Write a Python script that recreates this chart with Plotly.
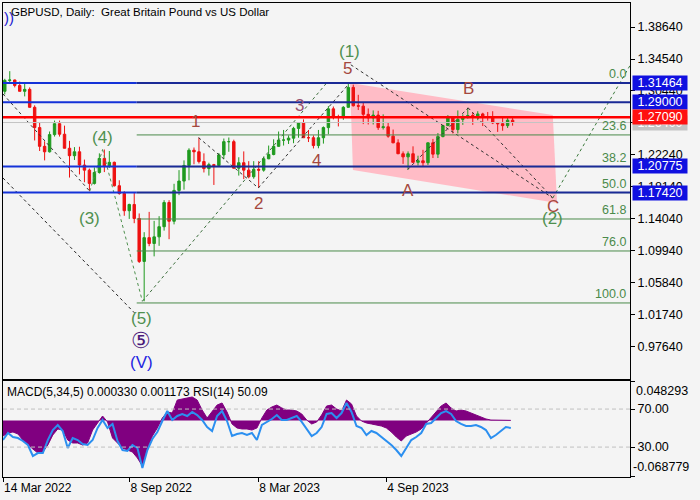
import pandas as pd
import plotly.graph_objects as go

# ---------------- data (weekly) ----------------
first_week = "2022-03-14"
opens = [1.3040, 1.3180, 1.3185, 1.3115, 1.3040, 1.3065, 1.2835, 1.2575, 1.2335, 1.2265,
         1.2485, 1.2625, 1.2490, 1.2310, 1.2215, 1.2265, 1.2095, 1.2030, 1.1860, 1.2000,
         1.2180, 1.2075, 1.2130, 1.1830, 1.1730, 1.1510, 1.1590, 1.1410, 1.0860, 1.1165,
         1.1090, 1.1175, 1.1305, 1.1615, 1.1375, 1.1770, 1.1890, 1.2090, 1.2285, 1.2265,
         1.2140, 1.2050, 1.2100, 1.2090, 1.2225, 1.2395, 1.2395, 1.2055, 1.2125, 1.2030,
         1.1945, 1.2040, 1.2030, 1.2175, 1.2230, 1.2335, 1.2415, 1.2415, 1.2440, 1.2565,
         1.2635, 1.2445, 1.2445, 1.2345, 1.2445, 1.2575, 1.2815, 1.2715, 1.2710, 1.2835,
         1.3090, 1.2855, 1.2850, 1.2745, 1.2700, 1.2735, 1.2575, 1.2585, 1.2465, 1.2380,
         1.2240, 1.2200, 1.2240, 1.2130, 1.2150, 1.2125, 1.2380, 1.2235, 1.2460, 1.2600,
         1.2705, 1.2550, 1.2680, 1.2705, 1.2730, 1.2720, 1.2750, 1.2705, 1.2705, 1.2635,
         1.2625, 1.2600, 1.2670]
highs = [1.3200, 1.3298, 1.3190, 1.3165, 1.3150, 1.3090, 1.2860, 1.2640, 1.2400, 1.2525,
         1.2665, 1.2665, 1.2600, 1.2405, 1.2325, 1.2330, 1.2165, 1.2050, 1.2065, 1.2245,
         1.2294, 1.2275, 1.2140, 1.1900, 1.1760, 1.1600, 1.1740, 1.1475, 1.1235, 1.1495,
         1.1380, 1.1440, 1.1645, 1.1645, 1.1855, 1.2030, 1.2155, 1.2310, 1.2320, 1.2446,
         1.2245, 1.2125, 1.2110, 1.2250, 1.2435, 1.2448, 1.2420, 1.2195, 1.2270, 1.2145,
         1.2145, 1.2145, 1.2205, 1.2345, 1.2425, 1.2525, 1.2545, 1.2475, 1.2585, 1.2640,
         1.2680, 1.2545, 1.2475, 1.2545, 1.2590, 1.2850, 1.2845, 1.2740, 1.2850, 1.3142,
         1.3125, 1.2995, 1.2890, 1.2820, 1.2795, 1.2790, 1.2745, 1.2635, 1.2550, 1.2425,
         1.2270, 1.2270, 1.2335, 1.2215, 1.2290, 1.2385, 1.2430, 1.2505, 1.2610, 1.2735,
         1.2720, 1.2795, 1.2745, 1.2828, 1.2770, 1.2785, 1.2765, 1.2775, 1.2785, 1.2645,
         1.2710, 1.2710, 1.2710]
lows = [1.3000, 1.3140, 1.3090, 1.3040, 1.2975, 1.2830, 1.2410, 1.2275, 1.2155, 1.2255,
        1.2460, 1.2460, 1.2310, 1.1935, 1.2160, 1.1975, 1.1875, 1.1760, 1.1845, 1.1985,
        1.2005, 1.2060, 1.1820, 1.1715, 1.1445, 1.1405, 1.1350, 1.0840, 1.0350, 1.1055,
        1.0925, 1.1060, 1.1255, 1.1145, 1.1335, 1.1710, 1.1780, 1.1900, 1.2105, 1.2115,
        1.2000, 1.1960, 1.1840, 1.2085, 1.2170, 1.2265, 1.2050, 1.1960, 1.1915, 1.1925,
        1.1920, 1.1802, 1.2010, 1.2170, 1.2220, 1.2330, 1.2345, 1.2365, 1.2375, 1.2445,
        1.2445, 1.2390, 1.2308, 1.2310, 1.2370, 1.2490, 1.2680, 1.2590, 1.2675, 1.2830,
        1.2845, 1.2800, 1.2620, 1.2615, 1.2615, 1.2545, 1.2550, 1.2445, 1.2375, 1.2235,
        1.2110, 1.2037, 1.2125, 1.2090, 1.2070, 1.2095, 1.2185, 1.2185, 1.2450, 1.2595,
        1.2500, 1.2500, 1.2610, 1.2690, 1.2610, 1.2670, 1.2595, 1.2665, 1.2620, 1.2520,
        1.2535, 1.2570, 1.2600]
closes = [1.3180, 1.3185, 1.3115, 1.3040, 1.3065, 1.2835, 1.2575, 1.2335, 1.2265, 1.2485,
          1.2625, 1.2490, 1.2310, 1.2215, 1.2265, 1.2095, 1.2030, 1.1860, 1.2000, 1.2180,
          1.2075, 1.2130, 1.1830, 1.1730, 1.1510, 1.1590, 1.1410, 1.0860, 1.1165, 1.1090,
          1.1175, 1.1305, 1.1615, 1.1375, 1.1770, 1.1890, 1.2090, 1.2285, 1.2265, 1.2140,
          1.2050, 1.2100, 1.2090, 1.2225, 1.2395, 1.2395, 1.2055, 1.2125, 1.2030, 1.1945,
          1.2040, 1.2030, 1.2175, 1.2230, 1.2335, 1.2415, 1.2415, 1.2440, 1.2565, 1.2635,
          1.2445, 1.2445, 1.2345, 1.2445, 1.2575, 1.2815, 1.2715, 1.2710, 1.2835, 1.3090,
          1.2855, 1.2850, 1.2745, 1.2700, 1.2735, 1.2575, 1.2585, 1.2465, 1.2380, 1.2240,
          1.2200, 1.2240, 1.2130, 1.2150, 1.2125, 1.2380, 1.2235, 1.2460, 1.2600, 1.2705,
          1.2550, 1.2680, 1.2705, 1.2730, 1.2720, 1.2750, 1.2705, 1.2705, 1.2635, 1.2625,
          1.2600, 1.2670, 1.2640]
macd_hist = [-0.0188, -0.0151, -0.0139, -0.0163, -0.0237, -0.0298, -0.0347, -0.0395, -0.0383, -0.0298,
             -0.0176, -0.0102, -0.0115, -0.0237, -0.0273, -0.0273, -0.0298, -0.0273, -0.0115, -0.0029,
             0.0056, -0.0017, -0.0212, -0.0273, -0.0334, -0.0359, -0.0383, -0.0456, -0.0554, -0.0334,
             -0.0188, -0.0090, 0.0032, 0.0105, 0.0093, 0.0251, 0.0264, 0.0276, 0.0288, 0.0251,
             0.0129, 0.0032, 0.0105, 0.0190, 0.0215, 0.0105, -0.0041, -0.0090, -0.0102, -0.0102,
             -0.0115, -0.0090, 0.0032, 0.0129, 0.0166, 0.0190, 0.0154, 0.0129, 0.0129, 0.0117,
             0.0081, 0.0007, -0.0041, -0.0017, 0.0068, 0.0178, 0.0190, 0.0142, 0.0117, 0.0251,
             0.0203, 0.0056, -0.0005, -0.0029, -0.0041, -0.0054, -0.0066, -0.0090, -0.0139, -0.0200,
             -0.0249, -0.0188, -0.0163, -0.0139, -0.0102, -0.0029, 0.0032, 0.0117, 0.0178, 0.0215,
             0.0154, 0.0117, 0.0129, 0.0117, 0.0093, 0.0068, 0.0044, 0.0020, 0.0007, 0.0004,
             0.0004, 0.0007, 0.0003]
rsi_vals = [37.4, 44.8, 40.6, 39.5, 36.4, 32.2, 20.6, 23.7, 23.7, 37.4,
            47.9, 53.2, 46.9, 29.0, 39.5, 37.4, 33.2, 32.2, 37.4, 50.1,
            58.5, 50.1, 54.3, 36.4, 26.9, 25.9, 32.2, 29.0, 8.0, 26.9,
            38.5, 45.8, 57.4, 67.9, 58.5, 62.7, 64.8, 62.7, 66.9, 63.7,
            58.5, 51.1, 46.9, 62.7, 67.9, 57.4, 41.6, 43.7, 44.8, 42.7,
            44.8, 37.4, 53.2, 56.4, 59.5, 63.7, 58.5, 58.5, 60.6, 62.7,
            56.4, 49.0, 41.6, 44.8, 51.1, 64.8, 65.8, 60.6, 65.8, 76.4,
            66.9, 52.2, 50.1, 42.7, 46.9, 44.8, 40.6, 37.4, 32.2, 26.9,
            20.6, 29.0, 37.4, 40.6, 44.8, 54.3, 55.3, 60.6, 65.8, 67.9,
            64.8, 57.4, 54.3, 52.2, 52.2, 53.2, 51.1, 47.9, 39.5, 42.7,
            46.9, 51.1, 50.09]

blue_levels = [1.31464, 1.29000, 1.20775, 1.17420]
red_level = 1.27090
last_price = 1.2640
fib_labels = ["0.0", "23.6", "38.2", "50.0", "61.8", "76.0", "100.0"]
fib_prices = [1.3146, 1.2481, 1.2075, 1.1742, 1.1404, 1.0994, 1.0328]
fib_start = "2022-09-18"

price_ticks = [0.97640, 1.01740, 1.05840, 1.09940, 1.14040, 1.18140,
               1.22240, 1.26340, 1.30440, 1.34540, 1.38640]
time_ticks = ["2022-03-14", "2022-09-08", "2023-03-08", "2023-09-04"]
time_tick_text = ["14 Mar 2022", "8 Sep 2022", "8 Mar 2023", "4 Sep 2023"]

# Elliott wave labels: anchor point (date, price)
wave_text = ["(4)", "(3)", "(5)", "\u2464", "(V)", "1", "2", "3", "4", "5", "(1)", "A", "B", "C", "(2)"]
wave_dates = ["2022-08-01", "2022-07-14", "2022-09-26", "2022-09-26", "2022-09-26",
              "2022-12-14", "2023-03-08", "2023-05-10", "2023-05-25", "2023-07-14",
              "2023-07-14", "2023-10-04", "2023-12-28", "2024-04-25", "2024-04-25"]
wave_prices = [1.2294, 1.1760, 1.0350, 1.0350, 1.0350,
               1.2446, 1.1802, 1.2680, 1.2308, 1.3142,
               1.3142, 1.2037, 1.2828, 1.1673, 1.1673]

# dashed wave lines (start date, start price, end date, end price)
seg_x0 = ["2022-03-14", "2022-07-14", "2022-08-01", "2022-03-14", "2022-09-26", "2022-12-14",
          "2023-03-08", "2023-07-16", "2023-10-04", "2023-12-28", "2024-04-25"]
seg_y0 = [1.3006, 1.1760, 1.2294, 1.1929, 1.0350, 1.2446, 1.1802, 1.3380, 1.2037, 1.2828, 1.1673]
seg_x1 = ["2022-07-14", "2022-08-01", "2022-09-26", "2022-09-15", "2023-06-12", "2023-03-08",
          "2023-07-14", "2024-04-25", "2023-12-28", "2024-04-25", "2024-08-12"]
seg_y1 = [1.1760, 1.2294, 1.0350, 1.0200, 1.3146, 1.1802, 1.3142, 1.1673, 1.2828, 1.1673, 1.3377]

# correction channel (filled)
channel_dates = ["2023-07-15", "2024-04-25", "2024-05-01", "2023-07-19"]
channel_prices = [1.3146, 1.2737, 1.1609, 1.2032]

# ---------------- styling ----------------
BG = "#f4f4f4"
GREEN_C = "#1f9a1f"
RED_C = "#ee1111"
FIB_C = "#4a8a4a"
WAVE_GREEN = "#4f904f"
WAVE_RED = "#a4483e"
FONT = "Liberation Sans, Arial, sans-serif"

wave_style = {
    "(4)": (WAVE_GREEN, 0, 12, 17), "(3)": (WAVE_GREEN, 0, -27, 17), "(5)": (WAVE_GREEN, -1, -17, 17),
    "\u2464": ("#4b1a7a", -1, -39, 22), "(V)": ("#2424e0", -1, -61, 17),
    "1": (WAVE_RED, -3, 16, 17), "2": (WAVE_RED, 0, -16, 17), "3": ("#985070", -4, 14, 17),
    "4": (WAVE_RED, 3, -12, 17), "5": (WAVE_RED, -2, 15, 17), "(1)": (WAVE_GREEN, 0, 32, 17),
    "A": (WAVE_RED, 0, -21, 17), "B": (WAVE_RED, 0, 19, 17), "C": (WAVE_RED, 0, -9, 17),
    "(2)": (WAVE_GREEN, 0, -21, 17),
}
seg_colors = ["#333333", WAVE_GREEN, WAVE_GREEN, "#222222", "#3c6e3c", "#333333",
              "#333333", "#333333", "#333333", "#333333", "#3c7a3c"]

week_dates = pd.date_range(first_week, periods=len(opens), freq="7D")
candle_x = week_dates + pd.Timedelta(hours=60)
x_start = pd.Timestamp(first_week)
x_end = x_start + pd.Timedelta(days=627 * 1.406)

fig = go.Figure()

fig.add_trace(go.Candlestick(
    x=candle_x, open=opens, high=highs, low=lows, close=closes,
    increasing=dict(line=dict(color=GREEN_C, width=1), fillcolor=GREEN_C),
    decreasing=dict(line=dict(color=RED_C, width=1), fillcolor=RED_C),
    whiskerwidth=0, xaxis="x", yaxis="y", hoverinfo="skip"))

for i in range(len(seg_x0)):
    fig.add_trace(go.Scatter(
        x=[seg_x0[i], seg_x1[i]], y=[seg_y0[i], seg_y1[i]], mode="lines",
        line=dict(color=seg_colors[i], width=1, dash="3px,3px"),
        hoverinfo="skip", xaxis="x", yaxis="y"))

fig.add_trace(go.Scatter(
    x=week_dates, y=macd_hist, mode="lines", fill="tozeroy",
    fillcolor="#800080", line=dict(color="#800080", width=1),
    hoverinfo="skip", xaxis="x2", yaxis="y2"))
fig.add_trace(go.Scatter(
    x=week_dates, y=rsi_vals, mode="lines",
    line=dict(color="#2b8ff0", width=2),
    hoverinfo="skip", xaxis="x2", yaxis="y3"))

shapes = []
# correction channel under the candles
path = "M " + " L ".join(f"{d},{p}" for d, p in zip(channel_dates, channel_prices)) + " Z"
shapes.append(dict(type="path", xref="x", yref="y", path=path, fillcolor="#ffbcc6",
                   line=dict(width=0), layer="below"))
# current price line
shapes.append(dict(type="line", xref="paper", x0=0, x1=1, yref="y", y0=last_price, y1=last_price,
                   line=dict(color="#c4c4c4", width=1)))
# fib lines
for p in fib_prices:
    shapes.append(dict(type="line", xref="x", x0=fib_start, x1=x_end, yref="y", y0=p, y1=p,
                       line=dict(color=FIB_C, width=1)))
# blue levels
for p in blue_levels:
    shapes.append(dict(type="line", xref="x", x0=x_start, x1=fib_start, yref="y", y0=p, y1=p,
                       line=dict(color="#1432d8", width=2)))
    shapes.append(dict(type="line", xref="x", x0=fib_start, x1=x_end, yref="y", y0=p, y1=p,
                       line=dict(color="#1a2a96", width=2)))
# red level
shapes.append(dict(type="line", xref="paper", x0=0, x1=1, yref="y", y0=red_level, y1=red_level,
                   line=dict(color="#ff0000", width=2.5)))
# RSI 70/30 levels
for lv in [70, 30]:
    shapes.append(dict(type="line", xref="x2 domain", x0=0, x1=1, yref="y3", y0=lv, y1=lv,
                       line=dict(color="#c0c0c0", width=1, dash="4px,3px")))

ann = []
ann.append(dict(xref="paper", yref="paper", x=0, y=1, xanchor="left", yanchor="top",
                xshift=6, yshift=-1, showarrow=False,
                text="GBPUSD, Daily:  Great Britain Pound vs US Dollar",
                font=dict(size=11.5, color="black")))
ann.append(dict(xref="paper", yref="paper", x=0, y=1, xanchor="left", yanchor="top",
                xshift=-1, yshift=-4, showarrow=False, text="))",
                font=dict(size=15, color="#2020d0")))
ann.append(dict(xref="paper", yref="y2 domain", x=0, y=1, xanchor="left", yanchor="top",
                xshift=2, yshift=-2, showarrow=False,
                text="MACD(5,34,5) 0.000330 0.001173 RSI(14) 50.09",
                font=dict(size=12, color="black")))
for t, d, p in zip(wave_text, wave_dates, wave_prices):
    col, dx, dy, fs = wave_style[t]
    ann.append(dict(xref="x", yref="y", x=d, y=p, xshift=dx, yshift=dy, showarrow=False,
                    text=t, font=dict(size=fs, color=col)))
for t, p in zip(fib_labels, fib_prices):
    ann.append(dict(xref="paper", yref="y", x=1, y=p, xanchor="right", yanchor="bottom",
                    xshift=-2, yshift=0, showarrow=False, text=t,
                    font=dict(size=12.5, color=FIB_C)))
# price boxes on the axis
boxes = [(last_price, "#c4c4c4")] + [(p, "#1010e0") for p in blue_levels] + [(red_level, "#ff1010")]
for p, c in boxes:
    ann.append(dict(xref="paper", yref="y", x=1, y=p, xanchor="left", yanchor="middle",
                    xshift=2, showarrow=False, text=f"{p:.5f}", bgcolor=c,
                    width=54, height=14, borderpad=0,
                    font=dict(size=12.5, color="white")))
ann.append(dict(xref="paper", yref="y2 domain", x=1, y=1, xanchor="left", yanchor="top",
                xshift=4, yshift=-1, showarrow=False, text="0.048293",
                font=dict(size=12.5, color="black")))
ann.append(dict(xref="paper", yref="y2 domain", x=1, y=0, xanchor="left", yanchor="bottom",
                xshift=1, yshift=1, showarrow=False, text="-0.068779",
                font=dict(size=12.5, color="black")))

fig.update_layout(
    width=700, height=500,
    margin=dict(l=3, r=70, t=3, b=23),
    paper_bgcolor=BG, plot_bgcolor=BG, showlegend=False,
    font=dict(family=FONT, size=12, color="black"),
    shapes=shapes, annotations=ann,
    xaxis=dict(domain=[0, 1], anchor="y", type="date", range=[x_start, x_end],
               showticklabels=False, ticks="", showgrid=False, zeroline=False,
               showline=True, linecolor="black", linewidth=1, mirror=True,
               rangeslider=dict(visible=False)),
    xaxis2=dict(domain=[0, 1], anchor="y2", type="date", range=[x_start, x_end],
                tickvals=time_ticks, ticktext=time_tick_text, ticks="outside", ticklen=4,
                tickcolor="black", ticklabelposition="outside right",
                tickfont=dict(size=12), showgrid=False, zeroline=False,
                showline=True, linecolor="black", linewidth=1, mirror=True,
                rangeslider=dict(visible=False)),
    yaxis=dict(domain=[0.2068, 1], anchor="x", side="right", range=[0.93540, 1.41715],
               tickvals=price_ticks, ticktext=[f"{v:.5f}" for v in price_ticks],
               ticks="outside", ticklen=4, tickcolor="black", tickfont=dict(size=12.5),
               showgrid=False, zeroline=False, showline=True, linecolor="black",
               linewidth=1, mirror=True),
    yaxis2=dict(domain=[0, 0.2025], anchor="x2", side="right", range=[-0.068779, 0.048293],
                tickvals=[-0.068779, 0.048293], showticklabels=False, ticks="outside",
                ticklen=4, tickcolor="black", showgrid=False, zeroline=False,
                showline=True, linecolor="black", linewidth=1, mirror=True),
    yaxis3=dict(overlaying="y2", anchor="x2", side="right", range=[-1.5, 99.5],
                tickvals=[30, 70], ticktext=["30.00", "70.00"], ticks="outside", ticklen=4,
                tickcolor="black", tickfont=dict(size=12.5), showgrid=False,
                zeroline=False, showline=False),
)

fig.write_html("out.html", config={"displayModeBar": False},
               post_script="document.body.style.margin='0';")
